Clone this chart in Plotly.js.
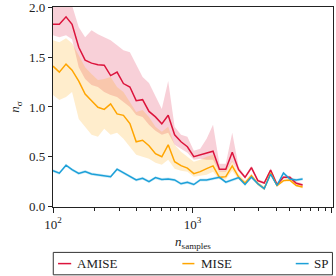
<!DOCTYPE html>
<html>
<head>
<meta charset="utf-8">
<script src="https://cdn.plot.ly/plotly-3.0.1.min.js"></script>
<style>html,body{margin:0;padding:0;background:#fff;}#chart{width:336px;height:276px;}</style>
</head>
<body>
<div id="chart"></div>
<script>
// sample sizes (x axis, log scale)
const nSamples = [100,111,124,137,153,170,189,210,233,259,288,320,356,395,439,488,543,603,670,745,828,920,1023,1137,1264,1405,1561,1735,1929,2144,2383,2649,2944,3272,3637,4043,4494,4995,5552,6168];

// AMISE
const amise   = [1.83,1.83,1.905,1.83,1.60,1.47,1.44,1.425,1.42,1.315,1.35,1.235,1.20,1.063,1.073,0.955,0.90,0.83,0.916,0.72,0.65,0.60,0.50,0.52,0.535,0.555,0.375,0.375,0.545,0.37,0.293,0.39,0.26,0.236,0.365,0.22,0.293,0.293,0.234,0.216];
const amiseHi = [2.10,2.12,2.15,2.02,1.80,1.70,1.77,1.73,1.70,1.67,1.62,1.57,1.55,1.42,1.30,1.24,1.10,0.98,1.26,0.80,0.72,0.70,0.56,0.58,0.68,0.82,0.43,0.43,0.74,0.40,0.31,0.41,0.275,0.25,0.385,0.235,0.31,0.31,0.25,0.23];
const amiseLo = [1.72,1.70,1.72,1.68,1.40,1.28,1.22,1.20,1.15,1.12,1.10,1.05,1.00,0.92,0.90,0.82,0.76,0.72,0.74,0.62,0.58,0.54,0.47,0.48,0.47,0.47,0.35,0.35,0.45,0.35,0.28,0.37,0.25,0.225,0.35,0.21,0.28,0.28,0.225,0.205];

// MISE
const mise   = [1.41,1.35,1.43,1.37,1.26,1.13,1.063,0.997,0.975,1.03,0.93,0.916,0.833,0.65,0.665,0.61,0.53,0.50,0.62,0.45,0.41,0.385,0.33,0.35,0.38,0.408,0.293,0.30,0.408,0.295,0.235,0.31,0.23,0.18,0.335,0.211,0.26,0.265,0.211,0.195];
const miseHi = [1.67,1.65,1.69,1.64,1.52,1.40,1.33,1.27,1.28,1.30,1.20,1.15,1.05,0.95,0.97,0.90,0.80,0.75,0.80,0.62,0.55,0.50,0.45,0.47,0.50,0.52,0.36,0.36,0.46,0.33,0.26,0.33,0.25,0.20,0.35,0.225,0.275,0.28,0.225,0.21];
const miseLo = [1.12,1.07,1.10,1.15,0.88,0.80,0.72,0.70,0.78,0.72,0.74,0.68,0.60,0.52,0.50,0.48,0.44,0.42,0.47,0.38,0.36,0.35,0.30,0.31,0.32,0.35,0.27,0.27,0.36,0.27,0.215,0.29,0.21,0.165,0.32,0.20,0.245,0.25,0.20,0.18];

// SP
const sp   = [0.36,0.335,0.415,0.37,0.332,0.352,0.326,0.316,0.305,0.30,0.375,0.34,0.30,0.267,0.283,0.25,0.29,0.272,0.277,0.267,0.228,0.244,0.221,0.267,0.267,0.277,0.293,0.244,0.265,0.29,0.221,0.295,0.228,0.179,0.326,0.211,0.336,0.277,0.267,0.277];
const spHi = [0.375,0.35,0.43,0.385,0.347,0.367,0.341,0.331,0.32,0.315,0.39,0.355,0.315,0.282,0.298,0.265,0.305,0.287,0.292,0.282,0.243,0.259,0.236,0.282,0.282,0.292,0.308,0.259,0.28,0.305,0.236,0.31,0.243,0.194,0.341,0.226,0.351,0.292,0.282,0.292];
const spLo = [0.345,0.32,0.40,0.355,0.317,0.337,0.311,0.301,0.29,0.285,0.36,0.325,0.285,0.252,0.268,0.235,0.275,0.257,0.262,0.252,0.213,0.229,0.206,0.252,0.252,0.262,0.278,0.229,0.25,0.275,0.206,0.28,0.213,0.164,0.311,0.196,0.321,0.262,0.252,0.262];

const seriesNames = ['AMISE','MISE','SP'];
const xTickVals = [100,1000,10000];
const xTickText = ['10<sup>2</sup>','10<sup>3</sup>','10<sup>4</sup>'];
const xMinorVals = [200,300,400,500,600,700,800,900,2000,3000,4000,5000,6000,7000,8000,9000];
const yTickVals = [0,0.5,1.0,1.5,2.0];
const yTickText = ['0.0','0.5','1.0','1.5','2.0'];

const colors = ['#DC143C','#FFA500','#1CA0D8'];
const fills = ['rgba(220,20,60,0.2)','rgba(255,165,0,0.2)','rgba(28,160,216,0.2)'];
const mids = [amise, mise, sp], his = [amiseHi, miseHi, spHi], los = [amiseLo, miseLo, spLo];

const traces = [];
for (let k = 0; k < 3; k++) {
  traces.push({x: nSamples, y: his[k], mode: 'lines', line: {width: 0, color: colors[k]}, showlegend: false, hoverinfo: 'skip'});
  traces.push({x: nSamples, y: los[k], mode: 'lines', line: {width: 0, color: colors[k]}, fill: 'tonexty', fillcolor: fills[k], showlegend: false, hoverinfo: 'skip'});
}
for (let k = 0; k < 3; k++) {
  traces.push({x: nSamples, y: mids[k], mode: 'lines', name: seriesNames[k], showlegend: false, line: {width: 1.5, color: colors[k]}});
}

const font = {family: 'Liberation Serif, DejaVu Serif, serif', size: 13, color: '#222'};

// legend drawn in paper coordinates, expanded across the plot width (as in the reference)
const legX = [[0.018, 0.065], [0.462, 0.505], [0.867, 0.913]];
const legTextX = [0.080, 0.522, 0.926];
const legY = -0.283;
const shapes = [{type: 'rect', xref: 'paper', yref: 'paper', x0: 0.001, x1: 0.998, y0: -0.227, y1: -0.339,
                 line: {color: '#333', width: 1}, fillcolor: 'rgba(0,0,0,0)'}];
const annotations = [];
for (let k = 0; k < 3; k++) {
  shapes.push({type: 'line', xref: 'paper', yref: 'paper', x0: legX[k][0], x1: legX[k][1], y0: legY, y1: legY,
               line: {color: colors[k], width: 1.5}});
  annotations.push({xref: 'paper', yref: 'paper', x: legTextX[k], y: legY, xanchor: 'left', yanchor: 'middle',
                    text: seriesNames[k], showarrow: false, font: font});
}

const layout = {
  width: 336, height: 276,
  margin: {l: 53, r: 3, t: 7, b: 69},
  paper_bgcolor: '#fff', plot_bgcolor: '#fff',
  font: font,
  showlegend: false,
  shapes: shapes,
  annotations: annotations,
  xaxis: {type: 'log', range: [2, 4.008], tickmode: 'array', tickvals: xTickVals, ticktext: xTickText,
          ticks: 'outside', ticklen: 5, tickwidth: 1, tickcolor: '#222',
          showline: true, linecolor: '#222', linewidth: 1.2, mirror: true,
          showgrid: false, zeroline: false,
          minor: {tickmode: 'array', tickvals: xMinorVals, ticks: 'outside', ticklen: 3, tickwidth: 1, tickcolor: '#222', showgrid: false},
          title: {text: '<i>n</i><sub>samples</sub>', font: font, standoff: 6}},
  yaxis: {range: [-0.005, 2.004], tickmode: 'array', tickvals: yTickVals, ticktext: yTickText,
          ticks: 'outside', ticklen: 4, tickwidth: 1, tickcolor: '#222', ticklabeloverflow: 'allow',
          showline: true, linecolor: '#222', linewidth: 1.2, mirror: true,
          showgrid: false, zeroline: false,
          title: {text: '<i>n</i><sub>σ</sub>', font: font, standoff: 6}}
};

Plotly.newPlot('chart', traces, layout, {displayModeBar: false, staticPlot: true});
</script>
</body>
</html>
